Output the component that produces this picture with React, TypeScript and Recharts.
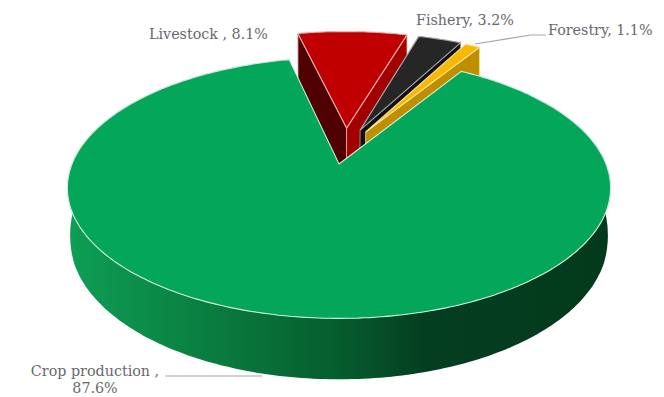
import React from 'react';
import { PieChart, Pie } from 'recharts';

const sectors = ['Livestock', 'Fishery', 'Forestry', 'Crop production'];
const shares = [8.1, 3.2, 1.1, 87.6];

const chartData = sectors.map((name, i) => ({ name, value: shares[i] }));

const SERIF = '"DejaVu Serif", serif';
const TEXT = '#68686e';

// perspective of the disc: how flat it looks and how fast it shrinks towards the back
const TILT = 0.36;
const PERSPECTIVE = -0.183;

const LOOK: Record<string, any> = {
  Livestock: { top: '#c00000', left: '#4f0000', right: '#a30000', edge: '#f0b0b0', dx: 0.03, dy: -0.3 },
  Fishery: { top: '#262626', left: '#111', right: '#111', edge: '#a8a8a8', dx: 0.083, dy: -0.283 },
  Forestry: { top: '#f7b900', left: '#b88a00', right: '#c08f00', edge: '#fbe3a0', dx: 0.105, dy: -0.266 },
  'Crop production': { top: '#04a75a', left: 'url(#cropWall)', right: 'url(#cropWall)', edge: '#cfeedd', dx: 0, dy: 0 },
};

const project = (u: number, v: number, cx: number, cy: number, r: number) => {
  const w = 1 + PERSPECTIVE * v;
  return [cx + (r * u) / w, (cy + r * TILT * v) / w];
};

// wall height grows towards the viewer; behind the centre the walls run down under the big slice
const wallDepth = (v: number) => {
  if (v < -0.3) return 31 + (-0.3 - v) * 150;
  if (v < 0.35) return 31 + (v + 0.3) * 34;
  return 53 + (v - 0.35) * 12.2;
};

const toPath = (pts: number[][]) =>
  pts.map((p, i) => `${i ? 'L' : 'M'}${p[0].toFixed(1)} ${p[1].toFixed(1)}`).join(' ') + ' Z';

const Disc3D = (props: any) => {
  const { cx, cy, outerRadius, startAngle, endAngle, name, payload } = props;
  const look = LOOK[name ?? payload?.name];
  const unit = (deg: number, rad = 1) => {
    const a = (deg * Math.PI) / 180;
    return [look.dx + rad * Math.cos(a), look.dy - rad * Math.sin(a)];
  };
  const onTop = (uv: number[]) => project(uv[0], uv[1], cx, cy, outerRadius);
  const onBase = (uv: number[]) => {
    const [x, y] = onTop(uv);
    return [cx + (x - cx) * 0.99, y + wallDepth(uv[1])];
  };

  const rimUv: number[][] = [];
  const steps = Math.max(4, Math.ceil(Math.abs(endAngle - startAngle)));
  for (let i = 0; i <= steps; i++) rimUv.push(unit(startAngle + ((endAngle - startAngle) * i) / steps));

  const apexUv = [look.dx, look.dy];
  const topFace = [onTop(apexUv), ...rimUv.map(onTop)];
  const rimWall = [...rimUv.map(onTop), ...[...rimUv].reverse().map(onBase)];

  // a cut face shows only when its outward side turns towards the viewer
  const cutFace = (uv: number[]) => [onTop(apexUv), onTop(uv), onBase(uv), onBase(apexUv)];
  const startUv = rimUv[0];
  const endUv = rimUv[rimUv.length - 1];
  const startShows = Math.cos((startAngle * Math.PI) / 180) < 0 && Math.sin((startAngle * Math.PI) / 180) > 0;
  const endShows = Math.cos((endAngle * Math.PI) / 180) > 0 && Math.sin((endAngle * Math.PI) / 180) > 0;
  const isCrop = look.dy === 0;

  return (
    <g>
      {isCrop && (
        <defs>
          <linearGradient id="cropWall" gradientUnits="userSpaceOnUse" x1="66" x2="610" y1="0" y2="0">
            <stop offset="0" stopColor="#0e9f55" />
            <stop offset="0.25" stopColor="#0a7f40" />
            <stop offset="0.5" stopColor="#055d2e" />
            <stop offset="0.66" stopColor="#043e20" />
            <stop offset="1" stopColor="#033a1c" />
          </linearGradient>
        </defs>
      )}
      <path d={toPath(rimWall)} fill={isCrop ? look.left : look.right} />
      {!isCrop && startShows && (
        <path d={toPath(cutFace(startUv))} fill={look.left} stroke={look.edge} strokeWidth={0.8} />
      )}
      {!isCrop && endShows && (
        <path d={toPath(cutFace(endUv))} fill={look.right} stroke={look.edge} strokeWidth={0.8} />
      )}
      <path d={toPath(topFace)} fill={look.top} stroke={look.edge} strokeWidth={1.1} />
    </g>
  );
};

const LABELS: Record<string, any> = {
  Livestock: { lines: ['Livestock , 8.1%'], x: 149, y: 39, anchor: 'start' },
  Fishery: { lines: ['Fishery, 3.2%'], x: 416, y: 25, anchor: 'start' },
  Forestry: { lines: ['Forestry, 1.1%'], x: 548, y: 35, anchor: 'start', leader: 'M546 35 L531 35 L475 44' },
  'Crop production': {
    lines: ['Crop production ,', '87.6%'],
    x: 95,
    y: 376,
    anchor: 'middle',
    leader: 'M165 376 L262 376',
  },
};

const SliceLabel = ({ name, payload }: any) => {
  const l = LABELS[name ?? payload?.name];
  return (
    <g>
      {l.leader && <path d={l.leader} fill="none" stroke="#a6a6a6" strokeWidth={1.2} />}
      <text x={l.x} y={l.y} textAnchor={l.anchor} fontFamily={SERIF} fontSize={14.3} fill={TEXT}>
        {l.lines.map((t: string, i: number) => (
          <tspan key={t} x={l.x} dy={i ? 17 : 0}>
            {t}
          </tspan>
        ))}
      </text>
    </g>
  );
};

export default function App() {
  return (
    <div style={{ position: 'absolute', left: 0, top: 0, width: 664, height: 397, background: '#fff' }}>
      <PieChart width={664} height={397} margin={{ top: 0, right: 0, bottom: 0, left: 0 }}>
        <Pie
          data={chartData}
          dataKey="value"
          nameKey="name"
          cx={339}
          cy={164}
          innerRadius={0}
          outerRadius={267}
          startAngle={102.7}
          endAngle={-257.3}
          stroke="none"
          shape={Disc3D}
          label={SliceLabel}
          labelLine={false}
          isAnimationActive={false}
        />
      </PieChart>
    </div>
  );
}
